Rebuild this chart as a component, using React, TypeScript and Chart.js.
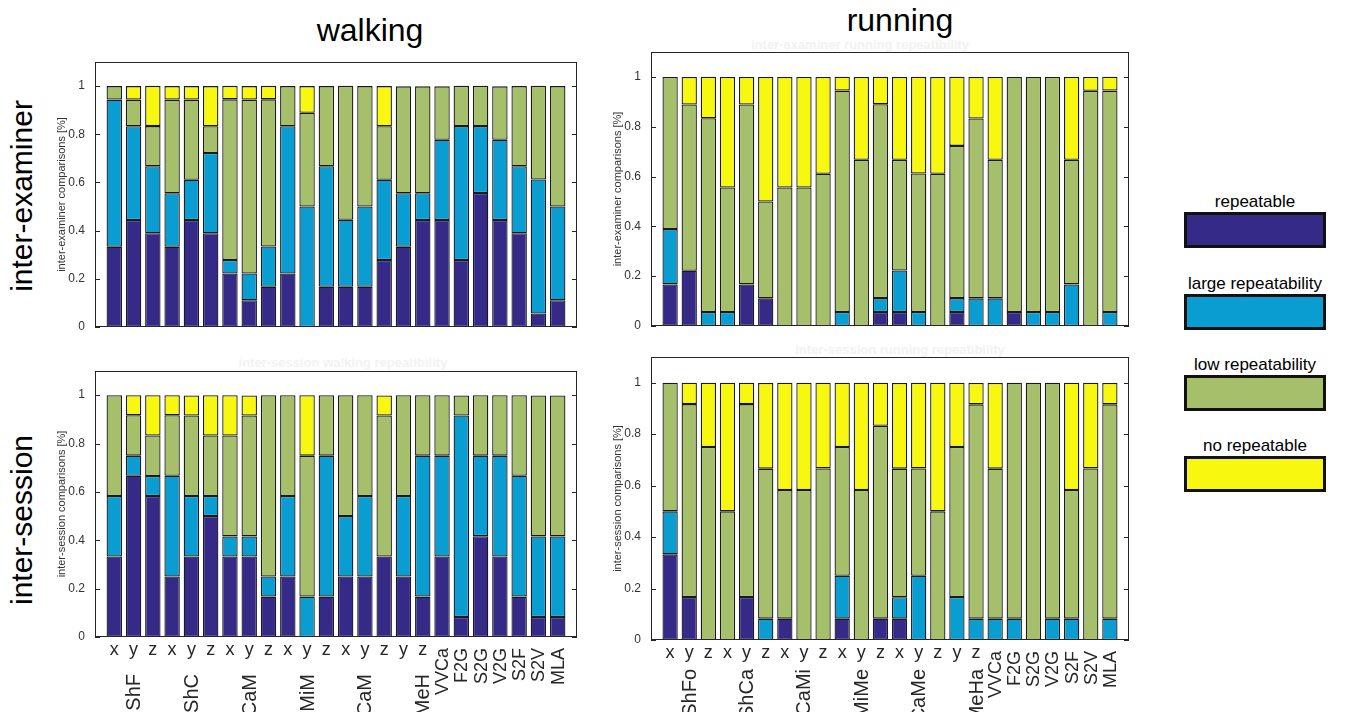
import React, { useEffect, useRef } from 'react';
import { Chart, registerables } from 'chart.js';
Chart.register(...registerables);

const FONT = "'Liberation Sans', Arial, Helvetica, sans-serif";

const seriesNames = ['repeatable', 'large repeatability', 'low repeatability', 'no repeatable'];
const seriesColors = ['#352A87', '#0A9DD1', '#A5BF6B', '#F7F70F'];

const tickLabels = ['x', 'y', 'z', 'x', 'y', 'z', 'x', 'y', 'z', 'x', 'y', 'z', 'x', 'y', 'z', 'y', 'z',
  'VVCa', 'F2G', 'S2G', 'V2G', 'S2F', 'S2V', 'MLA'];
const groupLabelsWalking = ['', 'ShF', '', '', 'ShC', '', '', 'CaM', '', '', 'MiM', '', '', 'CaM', '', '', 'MeH', '', '', '', '', '', '', ''];
const groupLabelsRunning = ['', 'ShFo', '', '', 'ShCa', '', '', 'CaMi', '', '', 'MiMe', '', '', 'CaMe', '', '', 'MeHa', '', '', '', '', '', '', ''];
const yTickValues = [0, 0.2, 0.4, 0.6, 0.8, 1];

// inter-examiner, walking
const walkExamRep = [0.333, 0.444, 0.389, 0.333, 0.444, 0.389, 0.222, 0.111, 0.167, 0.222, 0, 0.167, 0.167, 0.167, 0.278, 0.333, 0.444, 0.444, 0.278, 0.556, 0.444, 0.389, 0.056, 0.111];
const walkExamLarge = [0.611, 0.389, 0.278, 0.222, 0.167, 0.333, 0.056, 0.111, 0.167, 0.611, 0.5, 0.5, 0.278, 0.333, 0.333, 0.222, 0.111, 0.333, 0.556, 0.278, 0.333, 0.278, 0.556, 0.389];
const walkExamLow = [0.056, 0.111, 0.167, 0.389, 0.333, 0.111, 0.667, 0.722, 0.611, 0.167, 0.389, 0.333, 0.556, 0.5, 0.222, 0.444, 0.444, 0.222, 0.167, 0.167, 0.222, 0.333, 0.389, 0.5];
const walkExamNo = [0, 0.056, 0.167, 0.056, 0.056, 0.167, 0.056, 0.056, 0.056, 0, 0.111, 0, 0, 0, 0.167, 0, 0, 0, 0, 0, 0, 0, 0, 0];

// inter-examiner, running
const runExamRep = [0.167, 0.222, 0, 0, 0.167, 0.111, 0, 0, 0, 0, 0, 0.056, 0.056, 0, 0, 0.056, 0, 0, 0.056, 0, 0, 0, 0, 0];
const runExamLarge = [0.222, 0, 0.056, 0.056, 0, 0, 0, 0, 0, 0.056, 0, 0.056, 0.167, 0.056, 0, 0.056, 0.111, 0.111, 0, 0.056, 0.056, 0.167, 0, 0.056];
const runExamLow = [0.611, 0.667, 0.778, 0.5, 0.722, 0.389, 0.556, 0.556, 0.611, 0.889, 0.667, 0.778, 0.444, 0.556, 0.611, 0.611, 0.722, 0.556, 0.944, 0.944, 0.944, 0.5, 0.944, 0.889];
const runExamNo = [0, 0.111, 0.167, 0.444, 0.111, 0.5, 0.444, 0.444, 0.389, 0.056, 0.333, 0.111, 0.333, 0.389, 0.389, 0.278, 0.167, 0.333, 0, 0, 0, 0.333, 0.056, 0.056];

// inter-session, walking
const walkSessRep = [0.333, 0.667, 0.583, 0.25, 0.333, 0.5, 0.333, 0.333, 0.167, 0.25, 0, 0.167, 0.25, 0.25, 0.333, 0.25, 0.167, 0.333, 0.083, 0.417, 0.333, 0.167, 0.083, 0.083];
const walkSessLarge = [0.25, 0.083, 0.083, 0.417, 0.25, 0.083, 0.083, 0.083, 0.083, 0.333, 0.167, 0.583, 0.25, 0.333, 0, 0.333, 0.583, 0.417, 0.833, 0.333, 0.417, 0.5, 0.333, 0.333];
const walkSessLow = [0.417, 0.167, 0.167, 0.25, 0.333, 0.25, 0.417, 0.5, 0.75, 0.417, 0.583, 0.25, 0.5, 0.417, 0.583, 0.417, 0.25, 0.25, 0.083, 0.25, 0.25, 0.333, 0.583, 0.583];
const walkSessNo = [0, 0.083, 0.167, 0.083, 0.083, 0.167, 0.167, 0.083, 0, 0, 0.25, 0, 0, 0, 0.083, 0, 0, 0, 0, 0, 0, 0, 0, 0];

// inter-session, running
const runSessRep = [0.333, 0.167, 0, 0, 0.167, 0, 0.083, 0, 0, 0.083, 0, 0.083, 0.083, 0, 0, 0, 0, 0, 0, 0, 0, 0, 0, 0];
const runSessLarge = [0.167, 0, 0, 0, 0, 0.083, 0, 0, 0, 0.167, 0, 0, 0.083, 0.25, 0, 0.167, 0.083, 0.083, 0.083, 0, 0.083, 0.083, 0, 0.083];
const runSessLow = [0.5, 0.75, 0.75, 0.5, 0.75, 0.583, 0.5, 0.583, 0.667, 0.5, 0.583, 0.75, 0.5, 0.417, 0.5, 0.583, 0.833, 0.583, 0.917, 1, 0.917, 0.5, 0.667, 0.833];
const runSessNo = [0, 0.083, 0.25, 0.5, 0.083, 0.333, 0.417, 0.417, 0.333, 0.25, 0.417, 0.167, 0.333, 0.333, 0.5, 0.25, 0.083, 0.333, 0, 0, 0, 0.417, 0.333, 0.083];

type PanelProps = {
  canvasLeft: number;
  yAxisW: number;
  right: number;
  chartTop: number;
  chartBottom: number;
  xAxisH: number;
  series: number[][];
  yTitle: string;
  showLabels: boolean;
  groupLabels?: string[];
  groupOffset?: number;
};

const PAD_TOP = 20;
const PAD_RIGHT = 4;

const framePlugin = {
  id: 'matlabFrame',
  afterDatasetsDraw(chart: any, _args: any, opts: any) {
    const { ctx, chartArea: a, scales } = chart;
    ctx.save();
    ctx.strokeStyle = '#262626';
    ctx.lineWidth = 1;
    ctx.strokeRect(Math.round(a.left) + 0.5, Math.round(a.top) + 0.5, Math.round(a.width) - 1, Math.round(a.height) - 1);
    ctx.beginPath();
    for (const t of scales.y.ticks) {
      const py = Math.round(scales.y.getPixelForValue(t.value)) + 0.5;
      ctx.moveTo(a.left, py);
      ctx.lineTo(a.left + 5, py);
      ctx.moveTo(a.right - 5, py);
      ctx.lineTo(a.right, py);
    }
    ctx.stroke();
    if (opts && opts.showLabels) {
      ctx.fillStyle = '#262626';
      const xs = scales.x;
      (opts.labels as string[]).forEach((lab, i) => {
        const px = xs.getPixelForValue(i + 1);
        ctx.font = `18px ${FONT}`;
        if (lab.length === 1) {
          ctx.textAlign = 'center';
          ctx.textBaseline = 'middle';
          ctx.fillText(lab, px, a.bottom + 13);
        } else {
          ctx.save();
          ctx.translate(px + 1, a.bottom + 11);
          ctx.rotate(-Math.PI / 2);
          ctx.textAlign = 'right';
          ctx.textBaseline = 'middle';
          ctx.fillText(lab, 0, 0);
          ctx.restore();
        }
      });
      ctx.font = `20px ${FONT}`;
      (opts.groups as string[]).forEach((lab, i) => {
        if (!lab) return;
        const px = xs.getPixelForValue(i + 1);
        ctx.save();
        ctx.translate(px + 1, a.bottom + opts.groupOffset);
        ctx.rotate(-Math.PI / 2);
        ctx.textAlign = 'right';
        ctx.textBaseline = 'middle';
        ctx.fillText(lab, 0, 0);
        ctx.restore();
      });
    }
    ctx.restore();
  },
};

function Panel(p: PanelProps) {
  const ref = useRef<HTMLCanvasElement>(null);
  const width = p.right + PAD_RIGHT - p.canvasLeft;
  const top = p.chartTop - PAD_TOP;
  const height = p.chartBottom - top + p.xAxisH;

  useEffect(() => {
    if (!ref.current) return;
    const datasets = p.series.map((vals, s) => ({
      label: seriesNames[s],
      data: vals.map((v, i) => ({ x: i + 1, y: v })),
      backgroundColor: seriesColors[s],
      borderColor: '#1a1a1a',
      borderWidth: 1.3,
      borderSkipped: false,
      stack: 'one',
      barPercentage: 0.8,
      categoryPercentage: 1,
    }));
    const chart = new Chart(ref.current, {
      type: 'bar',
      data: { datasets },
      plugins: [framePlugin],
      options: {
        animation: false,
        responsive: false,
        maintainAspectRatio: false,
        layout: { padding: { top: PAD_TOP, right: PAD_RIGHT, left: 0, bottom: 0 } },
        plugins: {
          legend: { display: false },
          tooltip: { enabled: false },
          matlabFrame: {
            showLabels: p.showLabels,
            labels: tickLabels,
            groups: p.groupLabels || [],
            groupOffset: p.groupOffset || 0,
          },
        } as any,
        scales: {
          x: {
            type: 'linear',
            min: 0,
            max: 25,
            offset: false,
            stacked: true,
            grid: { display: false, drawTicks: false, offset: false },
            border: { display: false },
            ticks: { display: false },
            afterFit: (s: any) => { s.height = p.xAxisH; s.paddingLeft = 0; s.paddingRight = 0; },
          },
          y: {
            min: 0,
            max: 1.1,
            stacked: true,
            grid: { display: false, drawTicks: false },
            border: { display: false },
            afterBuildTicks: (s: any) => { s.ticks = yTickValues.map((v) => ({ value: v })); },
            ticks: {
              font: { size: 12, family: FONT },
              color: '#333333',
              padding: 10,
              callback: (v: any) => String(Number(v)),
            },
            title: {
              display: true,
              text: p.yTitle,
              font: { size: 11, family: FONT },
              color: '#333333',
              padding: { top: 7, bottom: 0 },
            },
            afterFit: (s: any) => { s.width = p.yAxisW; s.paddingTop = 0; s.paddingBottom = 0; },
          },
        },
      } as any,
    });
    return () => chart.destroy();
  }, []);

  return (
    <canvas
      ref={ref}
      width={width}
      height={height}
      style={{ position: 'absolute', left: p.canvasLeft, top, width, height }}
    />
  );
}

const textStyle = (extra: React.CSSProperties): React.CSSProperties => ({
  position: 'absolute',
  fontFamily: FONT,
  color: '#000',
  whiteSpace: 'nowrap',
  lineHeight: 1,
  ...extra,
});

export default function App() {
  const legendTops = [212, 294, 375, 456];
  return (
    <div style={{ position: 'fixed', left: 0, top: 0, width: 1347, height: 712, overflow: 'hidden', background: '#fff' }}>
      <div style={textStyle({ left: 370, top: 30, fontSize: 32, transform: 'translate(-50%, -50%)' })}>walking</div>
      <div style={textStyle({ left: 900, top: 20, fontSize: 32, transform: 'translate(-50%, -50%)' })}>running</div>
      <div style={textStyle({ left: 22, top: 196, fontSize: 30, transform: 'translate(-50%, -50%) rotate(-90deg)' })}>inter-examiner</div>
      <div style={textStyle({ left: 22, top: 520, fontSize: 30, transform: 'translate(-50%, -50%) rotate(-90deg)' })}>inter-session</div>

      <div style={textStyle({ left: 860, top: 44, fontSize: 13, fontWeight: 'bold', color: '#f2f2f2', transform: 'translate(-50%, -50%)' })}>inter-examiner running repeatibility</div>
      <div style={textStyle({ left: 343, top: 362, fontSize: 13, fontWeight: 'bold', color: '#f2f2f2', transform: 'translate(-50%, -50%)' })}>inter-session walking repeatibility</div>
      <div style={textStyle({ left: 900, top: 349, fontSize: 13, fontWeight: 'bold', color: '#f2f2f2', transform: 'translate(-50%, -50%)' })}>inter-session running repeatibility</div>

      <Panel canvasLeft={48} yAxisW={47} right={577} chartTop={62} chartBottom={327} xAxisH={24}
        series={[walkExamRep, walkExamLarge, walkExamLow, walkExamNo]} yTitle="inter-examiner comparisons [%]" showLabels={false} />
      <Panel canvasLeft={604} yAxisW={47} right={1129} chartTop={52} chartBottom={326} xAxisH={24}
        series={[runExamRep, runExamLarge, runExamLow, runExamNo]} yTitle="inter-examiner comparisons [%]" showLabels={false} />
      <Panel canvasLeft={48} yAxisW={47} right={577} chartTop={371} chartBottom={637} xAxisH={90}
        series={[walkSessRep, walkSessLarge, walkSessLow, walkSessNo]} yTitle="inter-session comparisons [%]" showLabels={true}
        groupLabels={groupLabelsWalking} groupOffset={37} />
      <Panel canvasLeft={604} yAxisW={47} right={1129} chartTop={357} chartBottom={640} xAxisH={90}
        series={[runSessRep, runSessLarge, runSessLow, runSessNo]} yTitle="inter-session comparisons [%]" showLabels={true}
        groupLabels={groupLabelsRunning} groupOffset={29} />

      {seriesNames.map((name, i) => (
        <React.Fragment key={name}>
          <div style={textStyle({ left: 1255, top: legendTops[i] - 11, fontSize: 17, transform: 'translate(-50%, -50%)' })}>{name}</div>
          <div style={{
            position: 'absolute', left: 1184, top: legendTops[i], width: 142, height: 36,
            boxSizing: 'border-box', border: '3px solid #111', background: seriesColors[i],
          }} />
        </React.Fragment>
      ))}
    </div>
  );
}
